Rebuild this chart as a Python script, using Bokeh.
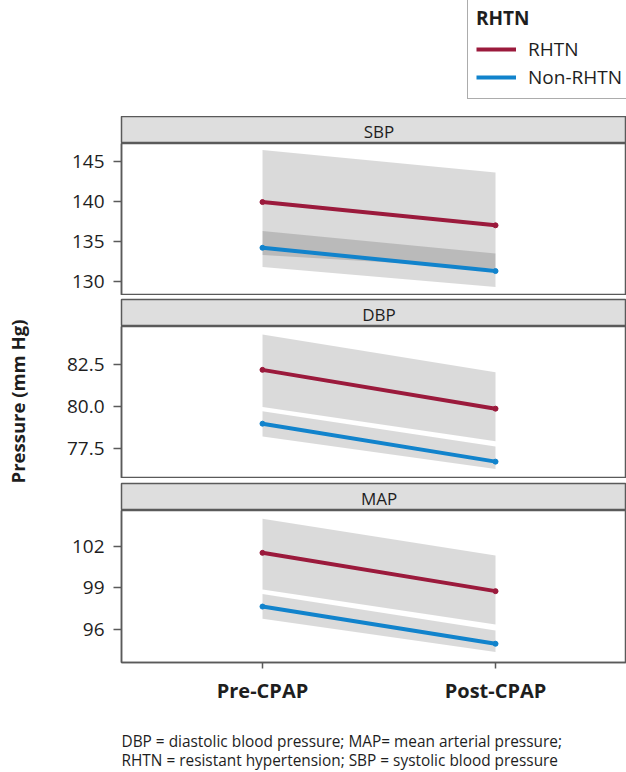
import math
from bokeh.plotting import figure
from bokeh.layouts import column, row
from bokeh.models import Range1d, FixedTicker, Legend, LegendItem
from bokeh.core.properties import value
from bokeh.embed import file_html
from bokeh.resources import INLINE

# ---------------- data ----------------
time_labels = ["Pre-CPAP", "Post-CPAP"]
group_labels = ["RHTN", "Non-RHTN"]
panel_names = ["SBP", "DBP", "MAP"]

sbp_rhtn = [139.9, 137.0]
sbp_rhtn_lo = [133.3, 131.6]
sbp_rhtn_hi = [146.4, 143.6]
sbp_non = [134.2, 131.3]
sbp_non_lo = [131.8, 129.3]
sbp_non_hi = [136.3, 133.5]

dbp_rhtn = [82.18, 79.88]
dbp_rhtn_lo = [79.98, 77.95]
dbp_rhtn_hi = [84.27, 82.04]
dbp_non = [78.99, 76.74]
dbp_non_lo = [78.23, 76.31]
dbp_non_hi = [79.72, 77.64]

map_rhtn = [101.52, 98.76]
map_rhtn_lo = [98.88, 96.36]
map_rhtn_hi = [103.97, 101.33]
map_non = [97.65, 94.97]
map_non_lo = [96.77, 94.37]
map_non_hi = [98.55, 95.93]

sbp_ticks = [130, 135, 140, 145]
dbp_ticks = [77.5, 80.0, 82.5]
map_ticks = [96, 99, 102]

y_axis_title = "Pressure (mm Hg)"
footnote_lines = [
    "DBP = diastolic blood pressure; MAP= mean arterial pressure;",
    "RHTN = resistant hypertension; SBP = systolic blood pressure",
]

# ---------------- style ----------------
FONT = "Open Sans"
RED = "#9b1a3c"
BLUE = "#1183cc"
AXIS_C = "#5a5a5a"
TEXT_C = "#1e1e1e"
TOTAL_W = 626
TOTAL_H = 772
LAB_W = 34
LEFT = 121 - LAB_W
FRAME_W = TOTAL_W - 121
xpos = list(range(len(time_labels)))
x_range = Range1d(-0.605, 1.562)


def base_fig(frame_h, **kw):
    p = figure(frame_width=FRAME_W, frame_height=frame_h, x_range=x_range,
               min_border_left=LEFT, min_border_right=0,
               toolbar_location=None, output_backend="svg", **kw)
    p.grid.visible = False
    p.outline_line_color = AXIS_C
    p.outline_line_width = 1.5
    return p


def strip_fig(name, gap):
    s = base_fig(27, y_range=Range1d(0, 1), x_axis_location=None,
                 y_axis_location=None, min_border_top=gap, min_border_bottom=0)
    s.background_fill_color = "#dedede"
    s.text(x=[sum(xpos) / len(xpos)], y=[0.45], text=[name], text_align="center",
           text_baseline="middle", text_font=value(FONT), text_font_size="17px",
           text_color=TEXT_C)
    return s


def panel_fig(yr, ticks, fmt, rhtn, rlo, rhi, non, nlo, nhi, bottom, xaxis):
    p = base_fig(152, y_range=Range1d(*yr),
                 x_axis_location="below" if xaxis else None,
                 min_border_top=0, min_border_bottom=bottom)
    p.varea(x=xpos, y1=rlo, y2=rhi, fill_color="black", fill_alpha=0.145)
    p.varea(x=xpos, y1=nlo, y2=nhi, fill_color="black", fill_alpha=0.145)
    p.line(xpos, rhtn, line_color=RED, line_width=4, line_cap="round")
    p.line(xpos, non, line_color=BLUE, line_width=4, line_cap="round")
    p.scatter(xpos, rhtn, size=5, color=RED)
    p.scatter(xpos, non, size=5, color=BLUE)
    ax = p.yaxis[0]
    ax.ticker = FixedTicker(ticks=ticks)
    ax.major_label_overrides = {t: fmt.format(t) for t in ticks}
    ax.minor_tick_line_color = None
    ax.major_tick_in = 0
    ax.major_tick_out = 8
    ax.major_tick_line_color = AXIS_C
    ax.major_tick_line_width = 1.5
    ax.axis_line_color = AXIS_C
    ax.axis_line_width = 1.5
    ax.major_label_standoff = 9
    ax.major_label_text_font = FONT
    ax.major_label_text_font_size = "19px"
    ax.major_label_text_color = TEXT_C
    if xaxis:
        xa = p.xaxis[0]
        xa.ticker = FixedTicker(ticks=xpos)
        xa.major_label_overrides = {i: t for i, t in zip(xpos, time_labels)}
        xa.minor_tick_line_color = None
        xa.major_tick_in = 0
        xa.major_tick_out = 6
        xa.major_tick_line_color = AXIS_C
        xa.major_tick_line_width = 1.5
        xa.axis_line_color = AXIS_C
        xa.axis_line_width = 1.5
        xa.major_label_standoff = 8
        xa.major_label_text_font = FONT
        xa.major_label_text_font_size = "20px"
        xa.major_label_text_font_style = "bold"
        xa.major_label_text_color = TEXT_C
    return p


# y-axis title strip on the far left
ylab = figure(frame_width=LAB_W, frame_height=TOTAL_H, x_range=Range1d(0, LAB_W),
              y_range=Range1d(0, TOTAL_H), min_border=0, toolbar_location=None,
              output_backend="svg", x_axis_location=None, y_axis_location=None)
ylab.grid.visible = False
ylab.outline_line_color = None
ylab.text(x=[17], y=[TOTAL_H - 401], text=[y_axis_title], angle=math.pi / 2,
          text_align="center", text_baseline="middle", text_font=value(FONT),
          text_font_size="18.5px", text_font_style="bold", text_color=TEXT_C)

# legend header (proxy lines lie outside the visible range, only feed the legend)
leg = figure(frame_width=FRAME_W, frame_height=116, x_range=Range1d(0, 1),
             y_range=Range1d(0, 1), min_border_left=LEFT, min_border_right=0,
             min_border_top=0, min_border_bottom=0, toolbar_location=None,
             output_backend="svg", x_axis_location=None, y_axis_location=None)
leg.grid.visible = False
leg.outline_line_color = None
lr = leg.line(xpos, sbp_rhtn, line_color=RED, line_width=4)
lb = leg.line(xpos, sbp_non, line_color=BLUE, line_width=4)
legend = Legend(items=[LegendItem(label=group_labels[0], renderers=[lr]),
                       LegendItem(label=group_labels[1], renderers=[lb])],
                location=(346, 17), title=group_labels[0])
legend.margin = 0
legend.padding = 8
legend.spacing = 2
legend.glyph_width = 40
legend.glyph_height = 22
legend.label_height = 22
legend.label_standoff = 12
legend.label_text_font = FONT
legend.label_text_font_size = "19px"
legend.label_text_color = TEXT_C
legend.title_text_font = FONT
legend.title_text_font_size = "19px"
legend.title_text_font_style = "bold"
legend.title_text_color = TEXT_C
legend.title_standoff = 5
legend.border_line_color = AXIS_C
legend.border_line_width = 1.5
leg.add_layout(legend)

s1 = strip_fig(panel_names[0], 0)
p1 = panel_fig((128.25, 147.2), sbp_ticks, "{:g}", sbp_rhtn, sbp_rhtn_lo, sbp_rhtn_hi,
               sbp_non, sbp_non_lo, sbp_non_hi, 0, False)
s2 = strip_fig(panel_names[1], 4)
p2 = panel_fig((75.74, 84.75), dbp_ticks, "{:.1f}", dbp_rhtn, dbp_rhtn_lo, dbp_rhtn_hi,
               dbp_non, dbp_non_lo, dbp_non_hi, 0, False)
s3 = strip_fig(panel_names[2], 5)
p3 = panel_fig((93.62, 104.57), map_ticks, "{:g}", map_rhtn, map_rhtn_lo, map_rhtn_hi,
               map_non, map_non_lo, map_non_hi, 50, True)

# footnote
foot = figure(frame_width=FRAME_W, frame_height=60, x_range=Range1d(0, FRAME_W),
              y_range=Range1d(0, 60), min_border_left=LEFT, min_border_right=0,
              min_border_top=0, min_border_bottom=0, toolbar_location=None,
              output_backend="svg", x_axis_location=None, y_axis_location=None)
foot.grid.visible = False
foot.outline_line_color = None
foot.text(x=[0, 0], y=[31, 12], text=footnote_lines, text_align="left",
          text_baseline="middle", text_font=value(FONT), text_font_size="15.4px",
          text_color=TEXT_C)

layout = row(ylab, column(leg, s1, p1, s2, p2, s3, p3, foot, spacing=0), spacing=0)
open("out.html", "w").write(file_html(layout, INLINE))
